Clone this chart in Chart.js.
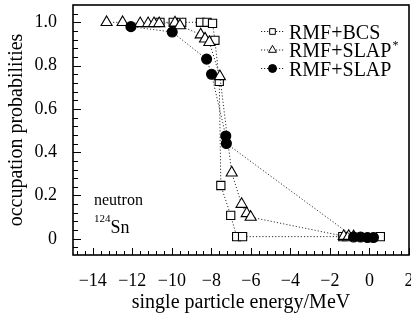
<!DOCTYPE html>
<html>
<head>
<meta charset="utf-8">
<script src="https://cdn.jsdelivr.net/npm/chart.js@4.4.0/dist/chart.umd.min.js"></script>
<style>
    html, body { margin: 0; padding: 0; background: #fff; }
    #wrap { width: 411px; height: 320px; }
</style>
</head>
<body>
<div id="wrap"><canvas id="occChart" width="411" height="320"></canvas></div>
<script>
// single particle energies (MeV) and occupation probabilities
const bcsEnergy = [-10.6, -9.93, -9.5, -8.55, -8.22, -7.94, -7.82, -7.6, -7.52, -7.02, -6.72, -6.42, -1.35, -1.15, 0.55];
const bcsOcc    = [1.0, 1.0, 1.0, 1.0, 1.0, 0.995, 0.917, 0.727, 0.246, 0.108, 0.01, 0.01, 0.01, 0.01, 0.01];

const slapStarEnergy = [-13.3, -12.49, -11.6, -11.2, -10.9, -10.64, -9.84, -9.59, -8.54, -8.32, -8.1, -7.57, -6.97, -6.47, -6.21, -6.01, -1.3, -1.05, -0.8];
const slapStarOcc    = [1.0, 1.0, 0.995, 0.995, 0.995, 0.995, 0.998, 0.985, 0.943, 0.924, 0.908, 0.75, 0.305, 0.16, 0.117, 0.1, 0.012, 0.012, 0.01];

const slapEnergy = [-12.07, -9.98, -8.24, -7.99, -7.27, -7.24, -0.8, -0.45, -0.1, 0.2];
const slapOcc    = [0.98, 0.955, 0.83, 0.76, 0.475, 0.44, 0.008, 0.008, 0.006, 0.006];

const seriesNames = ['RMF+BCS', 'RMF+SLAP', 'RMF+SLAP'];
const seriesSup = ['', '*', ''];

const xTickValues = [-14, -12, -10, -8, -6, -4, -2, 0, 2];
const xTickLabels = ['\u221214', '\u221212', '\u221210', '\u22128', '\u22126', '\u22124', '\u22122', '0', '2'];
const yTickValues = [0, 0.2, 0.4, 0.6, 0.8, 1.0];
const yTickLabels = ['0', '0.2', '0.4', '0.6', '0.8', '1.0'];

const serif = "'Liberation Serif', 'DejaVu Serif', serif";
Chart.defaults.font.family = serif;
Chart.defaults.color = '#000';

const toPoints = (xs, ys) => xs.map((x, i) => ({ x: x, y: ys[i] }));

const lineStyle = {
    borderColor: '#333',
    borderWidth: 1,
    borderDash: [1.2, 2],
    pointBorderColor: '#000',
    pointBorderWidth: 1.1,
    showLine: true,
    tension: 0
};

const datasets = [
    Object.assign({
        label: seriesNames[0],
        data: toPoints(bcsEnergy, bcsOcc),
        pointStyle: 'rect',
        pointRadius: 5.8,
        pointBackgroundColor: '#fff',
        order: 3
    }, lineStyle),
    Object.assign({
        label: seriesNames[1] + seriesSup[1],
        data: toPoints(slapStarEnergy, slapStarOcc),
        pointStyle: 'triangle',
        pointRadius: 6.4,
        pointBackgroundColor: '#fff',
        order: 2
    }, lineStyle),
    Object.assign({
        label: seriesNames[2],
        data: toPoints(slapEnergy, slapOcc),
        pointStyle: 'circle',
        pointRadius: 5,
        pointBackgroundColor: '#000',
        order: 1
    }, lineStyle)
];

// inward ticks + box frame like the printed figure
const axisBoxPlugin = {
    id: 'axisBox',
    beforeDatasetsDraw(chart) {
        const { ctx, chartArea: a, scales: { x, y } } = chart;
        ctx.save();
        ctx.strokeStyle = '#000';
        ctx.lineWidth = 1;
        ctx.beginPath();
        for (let k = -37; k <= 5; k++) {
            const px = Math.round(x.getPixelForValue(k * 0.4)) + 0.5;
            const len = k % 5 === 0 ? 7 : 4;
            ctx.moveTo(px, a.bottom);
            ctx.lineTo(px, a.bottom - len);
        }
        for (let k = -1; k <= 26; k++) {
            const py = Math.round(y.getPixelForValue(k * 0.04)) + 0.5;
            const len = k % 5 === 0 ? 8 : 5;
            ctx.moveTo(a.left, py);
            ctx.lineTo(a.left + len, py);
        }
        ctx.stroke();
        ctx.lineWidth = 1.6;
        ctx.strokeRect(a.left, a.top, a.right - a.left, a.bottom - a.top);
        ctx.restore();
    },
    afterDraw(chart) {
        const { ctx } = chart;
        ctx.save();
        ctx.fillStyle = '#000';
        ctx.textBaseline = 'alphabetic';

        // legend
        const rowY = [31.5, 50, 68.5];
        const symX = 272.5;
        chart.data.datasets.forEach((ds, i) => {
            const yy = rowY[i];
            ctx.save();
            ctx.strokeStyle = '#222';
            ctx.lineWidth = 1.1;
            ctx.setLineDash([1.2, 1.8]);
            ctx.beginPath();
            ctx.moveTo(261, yy);
            ctx.lineTo(285, yy);
            ctx.stroke();
            ctx.restore();
            ctx.strokeStyle = '#000';
            ctx.lineWidth = 1;
            ctx.fillStyle = ds.pointBackgroundColor;
            Chart.helpers.drawPoint(ctx, {
                pointStyle: ds.pointStyle,
                rotation: 0,
                radius: ds.pointStyle === 'triangle' ? 4.6 : 4,
                borderWidth: 1
            }, symX, yy);
            ctx.fillStyle = '#000';
            ctx.font = '20px ' + serif;
            ctx.fillText(seriesNames[i], 289, yy + 7);
            if (seriesSup[i]) {
                const w = ctx.measureText(seriesNames[i]).width;
                ctx.font = '12px ' + serif;
                ctx.fillText(seriesSup[i], 289 + w + 1, yy - 1);
            }
        });

        // nucleus label
        ctx.font = '16px ' + serif;
        ctx.fillText('neutron', 94, 205);
        ctx.font = '11px ' + serif;
        ctx.fillText('124', 94, 222);
        const supW = ctx.measureText('124').width;
        ctx.font = '18px ' + serif;
        ctx.fillText('Sn', 94 + supW, 233);
        ctx.restore();
    }
};

new Chart(document.getElementById('occChart').getContext('2d'), {
    type: 'line',
    data: { datasets: datasets },
    options: {
        responsive: false,
        animation: false,
        layout: { autoPadding: false, padding: { left: 0, top: 5, right: 2, bottom: 0 } },
        plugins: {
            legend: { display: false },
            tooltip: { enabled: false }
        },
        scales: {
            x: {
                type: 'linear',
                min: -15,
                max: 2,
                grid: { display: false, drawTicks: false },
                border: { display: false },
                afterFit(scale) {
                    scale.height = 65;
                    scale.paddingLeft = 0;
                    scale.paddingRight = 0;
                },
                afterBuildTicks(scale) { scale.ticks = xTickValues.map(v => ({ value: v })); },
                ticks: {
                    padding: 15,
                    maxRotation: 0,
                    autoSkip: false,
                    font: { size: 18 },
                    callback: (value) => xTickLabels[xTickValues.indexOf(value)]
                },
                title: {
                    display: true,
                    text: 'single particle energy/MeV',
                    font: { size: 20 },
                    padding: { top: 0, bottom: 5 }
                }
            },
            y: {
                min: -0.075,
                max: 1.08,
                grid: { display: false, drawTicks: false },
                border: { display: false },
                afterFit(scale) {
                    scale.width = 73;
                    scale.paddingTop = 0;
                    scale.paddingBottom = 0;
                },
                afterBuildTicks(scale) { scale.ticks = yTickValues.map(v => ({ value: v })); },
                ticks: {
                    padding: 16,
                    autoSkip: false,
                    font: { size: 18 },
                    callback: (value) => yTickLabels[yTickValues.indexOf(value)]
                },
                title: {
                    display: true,
                    text: 'occupation probabilities',
                    font: { size: 20 },
                    padding: { top: 5, bottom: 0 }
                }
            }
        }
    },
    plugins: [axisBoxPlugin]
});
</script>
</body>
</html>
